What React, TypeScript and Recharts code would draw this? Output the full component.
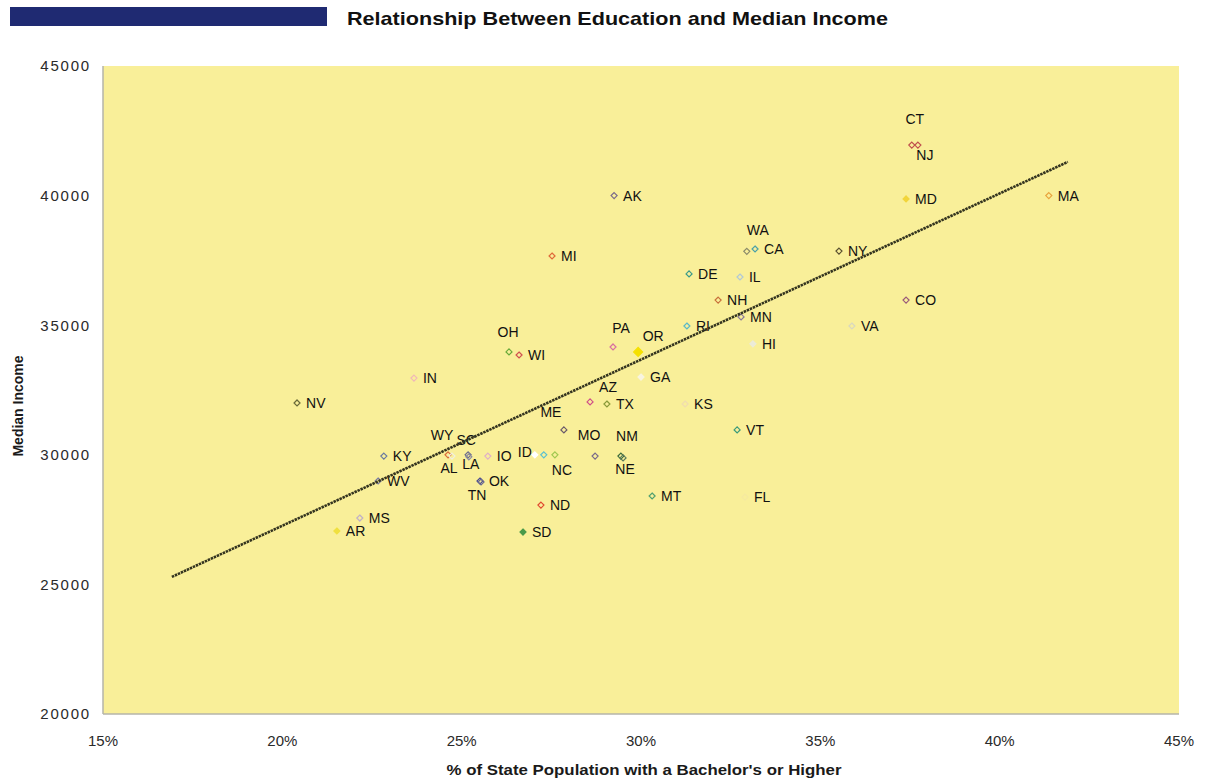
import React from 'react'
import { ScatterChart, Scatter, XAxis, YAxis, CartesianGrid } from 'recharts'

const states = [
  'CT', 'NJ', 'MD', 'MA', 'AK', 'WA', 'CA', 'NY', 'MI', 'DE', 'IL', 'NH', 'CO', 'MN', 'RI', 'VA',
  'HI', 'PA', 'OR', 'OH', 'WI', 'IN', 'GA', 'NV', 'AZ', 'TX', 'KS', 'ME', 'VT', 'MO', 'NM', 'NE',
  'KY', 'WY', 'AL', 'SC', 'LA', 'IO', 'ID', 'UT', 'NC', 'OK', 'TN', 'WV', 'ND', 'MT', 'FL', 'MS',
  'AR', 'SD',
]

const educationPct = [
  37.55, 37.72, 37.39, 41.37, 29.25, 32.95, 33.18, 35.52, 27.52, 31.34, 32.76, 32.15, 37.39, 32.79, 31.28, 35.88,
  33.12, 29.22, 29.92, 26.32, 26.6, 23.67, 30.0, 20.41, 28.58, 29.05, 31.23, 27.85, 32.68, 28.72, 29.44, 29.5,
  22.83, 24.62, 24.73, 25.18, 25.2, 25.73, 27.04, 27.29, 27.6, 25.51, 25.54, 22.67, 27.21, 30.31, 32.9, 22.16,
  21.52, 26.71,
]

const medianIncome = [
  41950, 41950, 39870, 40000, 40000, 37850, 37940, 37860, 37670, 36980, 36860, 35970, 35970, 35320, 34970, 34970,
  34280, 34160, 33970, 33970, 33850, 32960, 33000, 32000, 32040, 31960, 31960, 30960, 30960, 29950, 29950, 29880,
  29950, 30000, 29950, 30000, 29920, 29950, 30000, 30000, 30000, 28990, 28950, 28990, 28060, 28410, 28370, 27560,
  27060, 27020,
]

const xTicks = [15, 20, 25, 30, 35, 40, 45]
const yTicks = [20000, 25000, 30000, 35000, 40000, 45000]

// least-squares trend line end points
const trendPct = [16.92, 41.9]
const trendIncome = [25290, 41300]

const markerColors = [
  '#c0504d', '#c0504d', '#f2d53c', '#e8a33c', '#7a6a8a', '#8a8a6a', '#4aa0a8', '#5a5030', '#e06a3a', '#3a9a8a', '#b0c8d8', '#c8703a', '#9a5a7a', '#8a7a9a', '#5ab8c8', '#d8d8c0',
  '#ecebd8', '#d870a0', '#f5e000', '#6aaa3a', '#d05050', '#f0b8b8', '#f8f4e0', '#6a6a3a', '#d05088', '#8a9a3a', '#f0dcb0', '#6a5a6a', '#3a9a7a', '#7a6a8a', '#3a6a3a', '#5a7a5a',
  '#6a7aa0', '#d86a3a', '#f0f0e0', '#6a6a8a', '#8a8aa0', '#e0b0c8', '#ffffff', '#5ac0d0', '#a0c850', '#4a4a90', '#6a6a90', '#7a7aa0', '#e04a30', '#50a070', '#f5e9a0', '#c0b0c8',
  '#f0e040', '#4a9a4a',
]
const filledStates = ['MD', 'OR', 'ID', 'AR', 'SD', 'GA', 'HI']

// hand-placed data labels: centre offset from the marker (others sit to the right)
const labelNudge: Record<string, [number, number]> = {
  CT: [3, -26],
  NJ: [7, 10],
  WA: [11, -21],
  OH: [-1, -20],
  PA: [8, -19],
  OR: [15, -16],
  AZ: [18, -15],
  ME: [-13, -18],
  MO: [-6, -21],
  NM: [6, -20],
  NE: [2, 11],
  WY: [-6, -20],
  SC: [-2, -15],
  AL: [-3, 12],
  LA: [2, 7],
  NC: [7, 15],
  TN: [-4, 13],
  ID: [-10, -3],
}
const noLabel = ['UT']

const points = states.map((s, i) => ({ state: s, pct: educationPct[i], income: medianIncome[i] }))
const trendData = trendPct.map((p, i) => ({ pct: p, income: trendIncome[i] }))

const FONT = '"Liberation Sans", Arial, Helvetica, sans-serif'

const StateMarker = (props: any) => {
  const { cx, cy, payload } = props
  const s = payload.state
  const i = states.indexOf(s)
  const color = markerColors[i]
  const filled = filledStates.includes(s)
  const r = s === 'OR' ? 4.5 : 3

  let tx = cx + 9
  let ty = cy + 5
  let anchor: 'start' | 'middle' = 'start'
  const nudge = labelNudge[s]
  if (nudge) {
    tx = cx + nudge[0]
    ty = cy + nudge[1] + 5
    anchor = 'middle'
  }

  return (
    <g>
      <path
        d={`M${cx},${cy - r}L${cx + r},${cy}L${cx},${cy + r}L${cx - r},${cy}Z`}
        fill={filled ? color : 'none'}
        stroke={color}
        strokeWidth={1.2}
      />
      {!noLabel.includes(s) && (
        <text x={tx} y={ty} textAnchor={anchor} fontSize={14} fontFamily={FONT} fill="#111">
          {s}
        </text>
      )}
    </g>
  )
}

const XTitle = (props: any) => {
  const { viewBox } = props
  return (
    <text
      x={viewBox.x + viewBox.width / 2 + 3}
      y={viewBox.y + 61}
      textAnchor="middle"
      fontSize={15}
      fontWeight="bold"
      fontFamily={FONT}
      fill="#1a1a1a"
      textLength={395}
      lengthAdjust="spacingAndGlyphs"
    >
      % of State Population with a Bachelor's or Higher
    </text>
  )
}

const YTitle = (props: any) => {
  const { viewBox } = props
  const x = 23
  const y = viewBox.y + viewBox.height / 2 + 16
  return (
    <text
      x={x}
      y={y}
      transform={`rotate(-90 ${x} ${y})`}
      textAnchor="middle"
      fontSize={14}
      fontWeight="bold"
      fontFamily={FONT}
      fill="#1a1a1a"
    >
      Median Income
    </text>
  )
}

const App = () => {
  return (
    <div style={{ position: 'absolute', left: 0, top: 0, width: 1209, height: 782, background: '#fff' }}>
      <svg width={1209} height={40} style={{ position: 'absolute', left: 0, top: 0 }}>
        <rect x={10} y={7} width={317} height={19} fill="#1f2a72" />
        <text
          x={347}
          y={25}
          fontSize={19}
          fontWeight="bold"
          fontFamily={FONT}
          fill="#111"
          textLength={541}
          lengthAdjust="spacingAndGlyphs"
        >
          Relationship Between Education and Median Income
        </text>
      </svg>
      <ScatterChart width={1209} height={782} margin={{ top: 66, right: 30, bottom: 0, left: 0 }}>
        <CartesianGrid horizontal={false} vertical={false} fill="#F9EF99" fillOpacity={1} />
        <XAxis
          type="number"
          dataKey="pct"
          domain={[15, 45]}
          ticks={xTicks}
          tickFormatter={(v: number) => `${v}%`}
          height={68}
          tickSize={0}
          tickMargin={21}
          tickLine={false}
          axisLine={{ stroke: '#b4b4aa', strokeWidth: 1.5 }}
          tick={{ fontSize: 15, fill: '#2a2a2a', fontFamily: FONT }}
          label={{ content: XTitle }}
          allowDataOverflow
        />
        <YAxis
          type="number"
          dataKey="income"
          domain={[20000, 45000]}
          ticks={yTicks}
          width={103}
          tickSize={0}
          tickMargin={12}
          tickLine={false}
          axisLine={{ stroke: '#b4b4aa', strokeWidth: 1.5 }}
          tick={{ fontSize: 15, fill: '#2a2a2a', fontFamily: FONT, letterSpacing: 1.8 }}
          label={{ content: YTitle }}
          allowDataOverflow
        />
        <Scatter data={points} shape={StateMarker} isAnimationActive={false} />
        <Scatter
          data={trendData}
          line={{ stroke: '#34341f', strokeWidth: 2.6, strokeDasharray: '2.5 0.8' }}
          shape={() => <g />}
          isAnimationActive={false}
        />
      </ScatterChart>
    </div>
  )
}

export default App
